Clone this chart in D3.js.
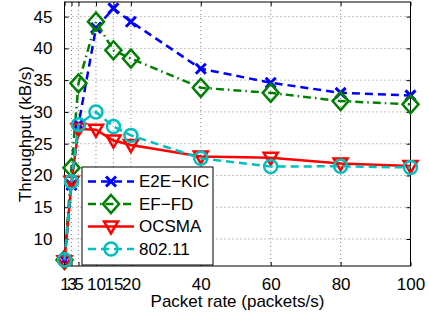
<!DOCTYPE html>
<html><head><meta charset="utf-8">
<script src="https://cdn.jsdelivr.net/npm/d3@7"></script>
<style>body{margin:0;background:#fff}svg{display:block}text{font-family:"Liberation Sans",Arial,sans-serif;fill:#000}</style>
</head><body><svg id="c" width="429" height="314"></svg>
<script>
const packetRates = [1, 3, 5, 10, 15, 20, 40, 60, 80, 100];
const e2eKic = [6.7, 18.5, 28.0, 43.2, 46.3, 44.2, 36.8, 34.6, 33.0, 32.6];
const efFd   = [6.7, 21.2, 34.5, 44.2, 39.7, 38.4, 33.8, 33.0, 31.7, 31.2];
const ocsma  = [6.5, 19.0, 27.3, 27.2, 25.5, 24.8, 23.0, 22.8, 21.9, 21.5];
const wifi   = [6.7, 19.0, 28.0, 30.0, 27.7, 26.3, 22.7, 21.4, 21.45, 21.25];
const xTicks = [1, 3, 5, 10, 15, 20, 40, 60, 80, 100];
const yTicks = [10, 15, 20, 25, 30, 35, 40, 45];
const seriesNames = ["E2E\u2212KIC", "EF\u2212FD", "OCSMA", "802.11"];

const svg = d3.select("#c");
const L = 64.5, R = 410.5, T = 2, B = 266;
const x = d3.scaleLinear().domain([1, 100]).range([L, R]);
const y = d3.scaleLinear().domain([5.75, 47.3]).range([B, T]);

const series = [
  {name: seriesNames[0], vals: e2eKic, color: "#0000ff", dash: "8,5", marker: "x"},
  {name: seriesNames[1], vals: efFd, color: "#008000", dash: "8,4,1.5,4", marker: "diamond"},
  {name: seriesNames[2], vals: ocsma, color: "#ff0000", dash: null, marker: "tri"},
  {name: seriesNames[3], vals: wifi, color: "#00bfbf", dash: "8,5", marker: "circle"}
];

// grid
const g = svg.append("g");
g.selectAll(".gx").data(xTicks).join("line")
  .attr("x1", d => x(d)).attr("x2", d => x(d)).attr("y1", T).attr("y2", B)
  .attr("stroke", "#666").attr("stroke-width", 0.8).attr("stroke-dasharray", "1,3");
g.selectAll(".gy").data(yTicks).join("line")
  .attr("x1", L).attr("x2", R).attr("y1", d => y(d)).attr("y2", d => y(d))
  .attr("stroke", "#666").attr("stroke-width", 0.8).attr("stroke-dasharray", "1,3");

// axes (ticks inside)
const axB = d3.axisBottom(x).tickValues(xTicks).tickSize(-4).tickPadding(12);
const axT = d3.axisTop(x).tickValues(xTicks).tickSize(-4).tickFormat("");
const axL = d3.axisLeft(y).tickValues(yTicks).tickSize(-4).tickPadding(12);
const axR = d3.axisRight(y).tickValues(yTicks).tickSize(-4).tickFormat("");
function style(sel){
  sel.select(".domain").remove();
  sel.selectAll("line").attr("stroke", "#000");
  sel.selectAll("text").style("font-size", "17px").attr("fill", "#000");
}
svg.append("g").attr("transform", `translate(0,${B})`).call(axB).call(style);
svg.append("g").attr("transform", `translate(0,${T})`).call(axT).call(style);
svg.append("g").attr("transform", `translate(${L},0)`).call(axL).call(style);
svg.append("g").attr("transform", `translate(${R},0)`).call(axR).call(style);
svg.append("rect").attr("x", L).attr("y", T).attr("width", R - L).attr("height", B - T)
  .attr("fill", "none").attr("stroke", "#000").attr("stroke-width", 1);

function drawMarker(sel, type, color){
  if (type === "x") {
    sel.append("path").attr("d", "M-5,-5L5,5M-5,5L5,-5").attr("stroke", color).attr("stroke-width", 3).attr("fill", "none");
  } else if (type === "diamond") {
    sel.append("path").attr("d", "M0,-9L8,0L0,9L-8,0Z").attr("stroke", color).attr("stroke-width", 2.5).attr("fill", "none");
  } else if (type === "tri") {
    sel.append("path").attr("d", "M-7,-5L7,-5L0,7Z").attr("stroke", color).attr("stroke-width", 2.5).attr("fill", "none");
  } else {
    sel.append("circle").attr("r", 6.5).attr("stroke", color).attr("stroke-width", 2.5).attr("fill", "none");
  }
}

const line = d3.line().x(d => x(d[0])).y(d => y(d[1]));
series.forEach(s => {
  const pts = packetRates.map((r, i) => [r, s.vals[i]]);
  const sg = svg.append("g");
  sg.append("path").datum(pts).attr("d", line).attr("fill", "none")
    .attr("stroke", s.color).attr("stroke-width", 2.5)
    .attr("stroke-dasharray", s.dash);
  sg.selectAll("g.m").data(pts).join("g")
    .attr("transform", d => `translate(${x(d[0])},${y(d[1])})`)
    .each(function(){ drawMarker(d3.select(this), s.marker, s.color); });
});

// legend
const lg = svg.append("g");
lg.append("rect").attr("x", 82).attr("y", 167).attr("width", 131).attr("height", 98)
  .attr("fill", "#fff").attr("stroke", "#000").attr("stroke-width", 1);
const ly = [181.5, 204, 226.5, 249];
series.forEach((s, i) => {
  lg.append("line").attr("x1", 88).attr("x2", 134).attr("y1", ly[i]).attr("y2", ly[i])
    .attr("stroke", s.color).attr("stroke-width", 2.5).attr("stroke-dasharray", s.dash);
  const mg = lg.append("g").attr("transform", `translate(111,${ly[i]})`);
  drawMarker(mg, s.marker, s.color);
  lg.append("text").attr("x", 139).attr("y", ly[i]).attr("dy", "0.35em")
    .style("font-size", "17px").text(s.name);
});

// axis labels
svg.append("text").attr("x", (L + R) / 2).attr("y", 307).attr("text-anchor", "middle")
  .style("font-size", "17px").text("Packet rate (packets/s)");
svg.append("text").attr("transform", `translate(31,${(T + B) / 2}) rotate(-90)`)
  .attr("text-anchor", "middle").style("font-size", "17px").text("Throughput (kB/s)");
</script></body></html>
